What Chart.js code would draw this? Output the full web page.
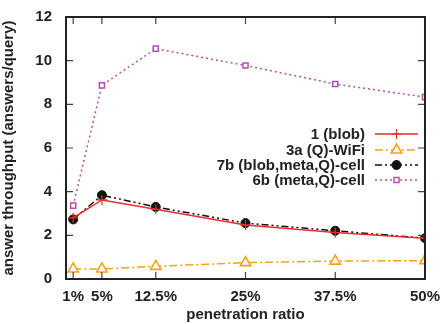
<!DOCTYPE html>
<html>
<head>
<meta charset="utf-8">
<script src="https://cdn.jsdelivr.net/npm/chart.js@4"></script>
<style>
  html, body { margin: 0; padding: 0; background: #fff; }
  #wrap { width: 441px; height: 324px; }
</style>
</head>
<body>
<div id="wrap"><canvas id="chart" width="441" height="324"></canvas></div>
<script>
// --- Data ---
const ratios = [1, 5, 12.5, 25, 37.5, 50];
const blob = [2.8, 3.62, 3.19, 2.47, 2.13, 1.87];
const wifiQ = [0.46, 0.46, 0.58, 0.75, 0.82, 0.84];
const cellBlobMetaQ = [2.73, 3.84, 3.3, 2.56, 2.21, 1.87];
const cellMetaQ = [3.36, 8.87, 10.55, 9.78, 8.93, 8.33];
const yTicks = [0, 2, 4, 6, 8, 10, 12];

const FONT = '"Liberation Sans", Arial, sans-serif';
const TEXT = '#222';

function pts(values) {
    return ratios.map((r, i) => ({ x: r, y: values[i] }));
}

// --- Frame: border box plus gnuplot-style inward ticks ---
const framePlugin = {
    id: 'frame',
    afterDatasetsDraw(chart) {
        const { ctx, chartArea: a, scales } = chart;
        ctx.save();
        ctx.strokeStyle = '#444';
        ctx.lineWidth = 1.2;
        ctx.beginPath();
        yTicks.forEach(v => {
            const y = scales.y.getPixelForValue(v);
            ctx.moveTo(a.left, y); ctx.lineTo(a.left + 7, y);
            ctx.moveTo(a.right, y); ctx.lineTo(a.right - 7, y);
        });
        ratios.forEach(v => {
            const x = scales.x.getPixelForValue(v);
            ctx.moveTo(x, a.bottom); ctx.lineTo(x, a.bottom - 7);
            ctx.moveTo(x, a.top); ctx.lineTo(x, a.top + 7);
        });
        ctx.stroke();
        ctx.strokeStyle = '#222';
        ctx.lineWidth = 2;
        ctx.strokeRect(a.left, a.top, a.right - a.left, a.bottom - a.top);
        ctx.restore();
    }
};

// --- Legend drawn gnuplot style: text, then line sample with marker ---
const keyPlugin = {
    id: 'key',
    afterDraw(chart) {
        const { ctx } = chart;
        const textRight = 365, x0 = 375, x1 = 418, rows = [134, 150, 165, 180];
        chart.data.datasets.forEach((ds, i) => {
            const y = rows[i];
            ctx.save();
            ctx.font = 'bold 15px ' + FONT;
            ctx.fillStyle = TEXT;
            ctx.textAlign = 'right';
            ctx.textBaseline = 'middle';
            ctx.fillText(ds.label, textRight, y + 1);
            ctx.strokeStyle = ds.borderColor;
            ctx.lineWidth = ds.borderWidth;
            ctx.setLineDash(ds.borderDash || []);
            ctx.beginPath();
            ctx.moveTo(x0, y); ctx.lineTo(x1, y);
            ctx.stroke();
            ctx.setLineDash([]);
            ctx.fillStyle = ds.pointBackgroundColor;
            ctx.strokeStyle = ds.borderColor;
            ctx.lineWidth = ds.pointBorderWidth;
            Chart.helpers.drawPoint(ctx, {
                pointStyle: ds.pointStyle,
                radius: ds.pointRadius,
                borderWidth: ds.pointBorderWidth
            }, (x0 + x1) / 2, y);
            ctx.restore();
        });
    }
};

const chart = new Chart(document.getElementById('chart').getContext('2d'), {
    type: 'line',
    data: {
        datasets: [
            {
                label: '1 (blob)',
                data: pts(blob),
                borderColor: '#ee2a2a',
                borderWidth: 1.5,
                pointStyle: 'cross',
                pointRadius: 5,
                pointBorderWidth: 1.2,
                pointBackgroundColor: '#ee2a2a'
            },
            {
                label: '3a (Q)-WiFi',
                data: pts(wifiQ),
                borderColor: '#f7a21b',
                borderWidth: 1.5,
                borderDash: [8, 3, 2, 3],
                pointStyle: 'triangle',
                pointRadius: 6,
                pointBorderWidth: 1.6,
                pointBackgroundColor: '#ffffff'
            },
            {
                label: '7b (blob,meta,Q)-cell',
                data: pts(cellBlobMetaQ),
                borderColor: '#111111',
                borderWidth: 1.5,
                borderDash: [7, 3, 2, 3, 2, 3],
                pointStyle: 'circle',
                pointRadius: 4.5,
                pointBorderWidth: 1,
                pointBackgroundColor: '#111111'
            },
            {
                label: '6b (meta,Q)-cell',
                data: pts(cellMetaQ),
                borderColor: '#b44fb2',
                borderWidth: 1.5,
                borderDash: [2, 3],
                pointStyle: 'rect',
                pointRadius: 3.6,
                pointBorderWidth: 1.5,
                pointBackgroundColor: '#ffffff'
            }
        ]
    },
    options: {
        responsive: false,
        animation: false,
        layout: { padding: { left: 0, right: 16, top: 17, bottom: 0 } },
        plugins: {
            legend: { display: false },
            tooltip: { enabled: false }
        },
        scales: {
            x: {
                type: 'linear',
                min: 0,
                max: 50,
                afterBuildTicks: axis => { axis.ticks = ratios.map(v => ({ value: v })); },
                afterFit: axis => { axis.height = 45; },
                grid: { display: false },
                border: { display: false },
                ticks: {
                    autoSkip: false,
                    maxRotation: 0,
                    padding: 1,
                    color: TEXT,
                    font: { family: FONT, size: 15, weight: 'bold' },
                    callback: v => v + '%'
                },
                title: {
                    display: true,
                    text: 'penetration ratio',
                    color: TEXT,
                    padding: { top: 0, bottom: 0 },
                    font: { family: FONT, size: 15, weight: 'bold' }
                }
            },
            y: {
                min: 0,
                max: 12,
                afterBuildTicks: axis => { axis.ticks = yTicks.map(v => ({ value: v })); },
                afterFit: axis => { axis.width = 66; },
                grid: { display: false },
                border: { display: false },
                ticks: {
                    padding: 6,
                    color: TEXT,
                    font: { family: FONT, size: 15, weight: 'bold' }
                },
                title: {
                    display: true,
                    text: 'answer throughput (answers/query)',
                    color: TEXT,
                    padding: { top: 0, bottom: 0 },
                    font: { family: FONT, size: 15, weight: 'bold' }
                }
            }
        }
    },
    plugins: [framePlugin, keyPlugin]
});
</script>
</body>
</html>
